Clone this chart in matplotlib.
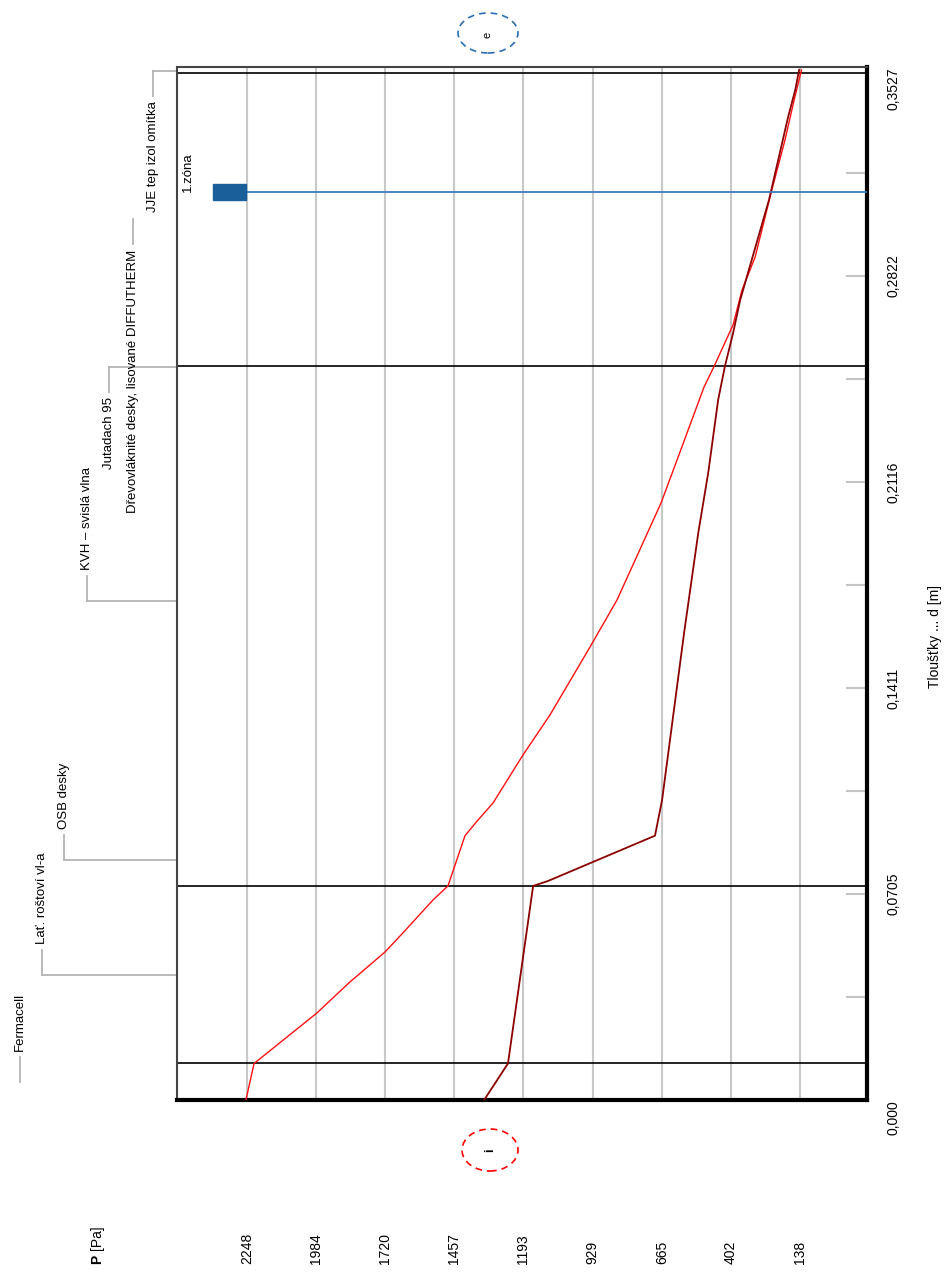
import numpy as np
import matplotlib.pyplot as plt
from matplotlib.patches import Ellipse, Rectangle
from matplotlib.transforms import blended_transform_factory as blend

plt.rcParams['font.family'] = ['Liberation Sans', 'DejaVu Sans']

W, H = 950, 1277

# --- data ---
P_ticks = [2248, 1984, 1720, 1457, 1193, 929, 665, 402, 138]
d_krok = 0.035266
d_labels = ['0,000', '0,0705', '0,1411', '0,2116', '0,2822', '0,3527']

vrstvy = ['Fermacell', 'Lať. roštoví vl-a', 'OSB desky', 'KVH – svislá vlna',
          'Jutadach 95', 'Dřevovláknité desky, lisované DIFFUTHERM',
          'JJE tep izol omítka']
tloustky = [0.0125, 0.0608, 0.0175, 0.1600, 0.0005, 0.1004, 0.0010]
hranice = [0.0125, 0.0733, 0.2513, 0.3517]   # cary mezi vrstvami

# nasycený tlak vodní páry
d_sat = [0, 0.0125, 0.0298, 0.0401, 0.0507, 0.0572, 0.0685, 0.0733, 0.0905,
         0.0959, 0.1017, 0.1181, 0.1318, 0.1551, 0.1712, 0.2044, 0.2191,
         0.2441, 0.2513, 0.2654, 0.2773, 0.2886, 0.3106, 0.3287, 0.3424, 0.3527]
p_sat = [2252, 2221, 1981, 1859, 1721, 1653, 1538, 1481, 1416, 1366, 1309,
         1195, 1092, 939, 836, 668, 607, 504, 465, 393, 359, 309, 248, 195,
         160, 132]

# částečný tlak vodní páry
d_p = [0, 0.0125, 0.0733, 0.0750, 0.0905, 0.1027, 0.1599, 0.1941, 0.2147,
       0.2397, 0.2513, 0.2626, 0.2739, 0.3082, 0.3366, 0.3458, 0.3527]
p_p = [1343, 1252, 1156, 1099, 691, 664, 580, 526, 488, 450, 424, 393, 366,
       256, 183, 156, 141]

d_zona = 0.3109

# --- rozvrzeni popisku ---
lab_x = [20, 42, 64, 87, 109, 133, 153]
nahoru = [True, True, True, True, False, False, False]
vodorovne = [False, True, True, True, True, False, True]

fig = plt.figure(figsize=(W / 100, H / 100), dpi=100)
ax = fig.add_axes([177 / W, 177 / H, 690 / W, 1033 / H])
ax.set_xlim(2515, -118)
ax.set_ylim(0, 0.3537)
ax.set_xticks([])
ax.set_yticks([])

for p in P_ticks:
    ax.axvline(p, color='#c8c8c8', lw=1.5, zorder=0)

for h in hranice:
    ax.axhline(h, color='black', lw=1.2, zorder=1)

# kratke znacky na prave ose
tr_ay = blend(ax.transAxes, ax.transData)
for k in range(1, 10):
    ax.plot([1 - 20 / 690, 1], [k * d_krok] * 2, color='#c4c4c4', lw=1.5,
            transform=tr_ay, clip_on=False, zorder=2)

ax.plot(p_sat, d_sat, color='#ff1010', lw=1.0, zorder=3)
ax.plot(p_p, d_p, color='#8b0000', lw=1.3, zorder=3)

# 1. zona
ax.plot([2252, -118], [d_zona, d_zona], color='#3a7fc0', lw=1.3, zorder=4)
ax.add_patch(Rectangle((2252, d_zona - 0.0029), 126, 0.0058,
                       color='#1a5e9a', clip_on=False, zorder=5))
ax.text(2473, d_zona, '1.zóna', rotation=90, ha='center', va='bottom',
        fontsize=9.5)

for s in ['left', 'top']:
    ax.spines[s].set_color('#444444')
    ax.spines[s].set_linewidth(1.5)
for s in ['right', 'bottom']:
    ax.spines[s].set_color('black')
    ax.spines[s].set_linewidth(3)

# popisky osy P
tr_xf = blend(ax.transData, fig.transFigure)
for p in P_ticks:
    ax.text(p, 1 - 1264 / H, str(p), transform=tr_xf, rotation=90,
            ha='center', va='bottom', fontsize=10, clip_on=False)
fig.text(97 / W, 1 - 1264 / H, 'P', rotation=90, ha='center', va='bottom',
         fontsize=10, fontweight='bold')
fig.text(97 / W, 1 - 1250 / H, '[Pa]', rotation=90, ha='center', va='bottom',
         fontsize=10)

# popisky osy d
tr_fy = blend(fig.transFigure, ax.transData)
for k, lab in enumerate(d_labels):
    va = 'center'
    yy = 2 * k * d_krok
    if k == 0:
        va = 'top'
    if k == len(d_labels) - 1:
        va = 'top'
        yy = 0.3537
    ax.text(893 / W, yy, lab, transform=tr_fy, rotation=90, ha='center',
            va=va, fontsize=10, clip_on=False)
fig.text(935 / W, 1 - 637 / H, 'Tloušťky ... d [m]', rotation=90,
         ha='center', va='center', fontsize=10)

# popisky vrstev s odkazovymi carami
hrany = np.concatenate([[0], np.cumsum(tloustky)])
for i, name in enumerate(vrstvy):
    dc = (hrany[i] + hrany[i + 1]) / 2
    yc = ax.transData.transform((0, dc))[1]
    x = lab_x[i] / W
    if nahoru[i]:
        y_end = yc + 25
        ax.text(x, (y_end + 6) / H, name, transform=fig.transFigure,
                rotation=90, ha='center', va='bottom', fontsize=9.5)
    else:
        y_end = yc - 25
        ax.text(x, (y_end - 5) / H, name, transform=fig.transFigure,
                rotation=90, ha='center', va='top', fontsize=9.5)
    ax.plot([x, x], [yc / H, y_end / H], color='#b4b4b4', lw=1.3,
            transform=fig.transFigure, clip_on=False)
    if vodorovne[i]:
        ax.plot([x, 177 / W], [yc / H, yc / H], color='#b4b4b4', lw=1.3,
                transform=fig.transFigure, clip_on=False)

# interier / exterier
fig.add_artist(Ellipse((490 / W, 1 - 1150 / H), 56 / W, 42 / H,
                       transform=fig.transFigure, fill=False, ec='red',
                       ls=(0, (4, 3)), lw=1.2))
fig.text(490 / W, 1 - 1150 / H, 'i', rotation=90, ha='center', va='center',
         fontsize=9, fontweight='bold')
fig.add_artist(Ellipse((488 / W, 1 - 33 / H), 60 / W, 40 / H,
                       transform=fig.transFigure, fill=False, ec='#2a6fb5',
                       ls=(0, (4, 3)), lw=1.2))
fig.text(488 / W, 1 - 35 / H, 'e', rotation=90, ha='center', va='center',
         fontsize=8)

fig.savefig('out.png', dpi=100)
